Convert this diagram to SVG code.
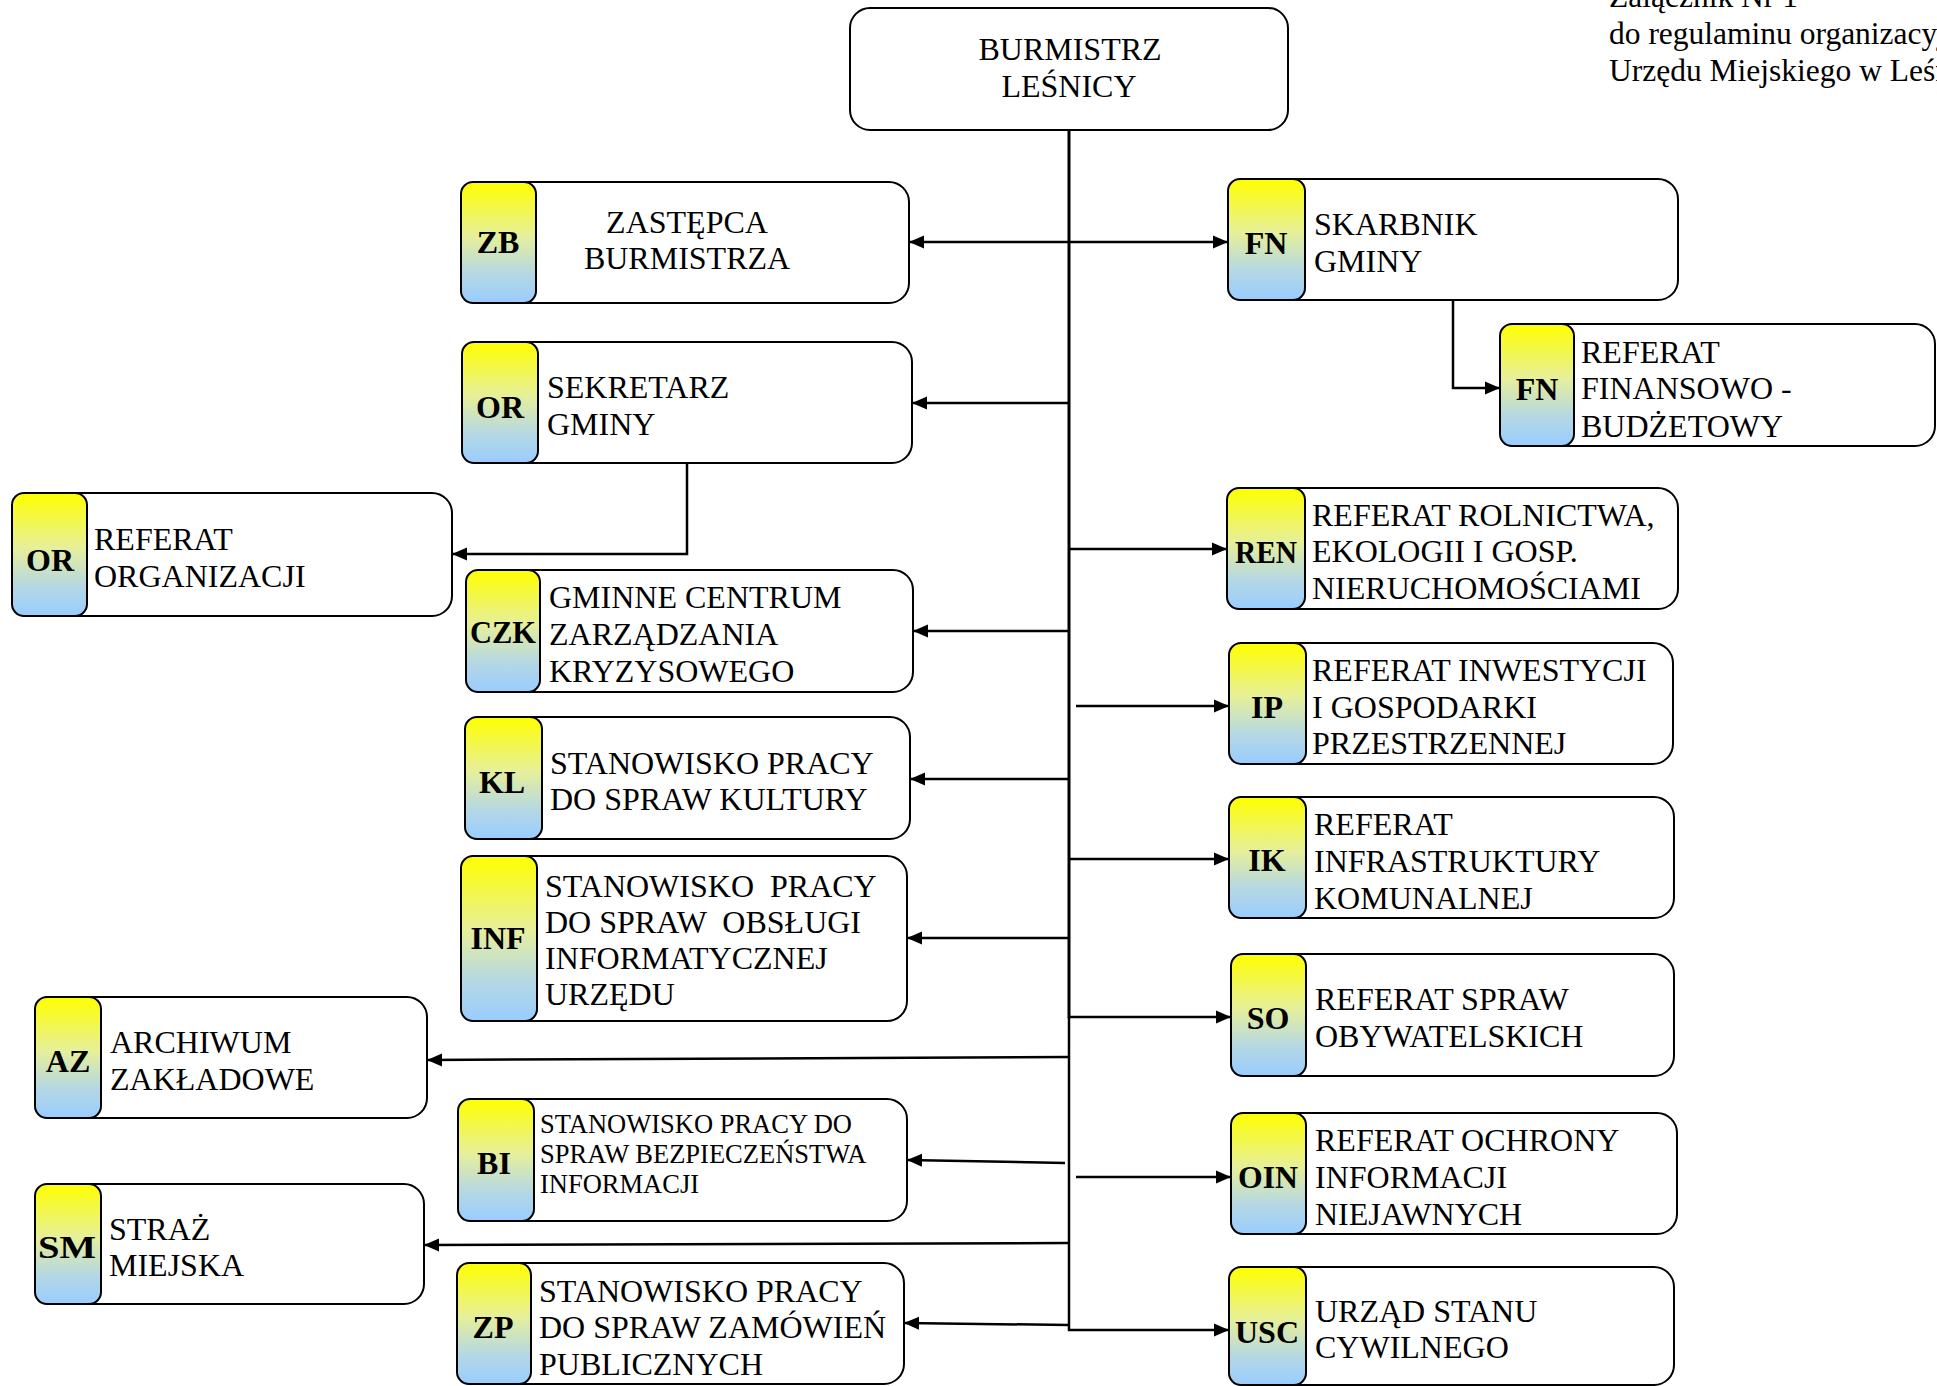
<svg xmlns="http://www.w3.org/2000/svg" width="1937" height="1386" viewBox="0 0 1937 1386">
<defs>
<linearGradient id="badgeGrad" x1="0" y1="0" x2="0" y2="1">
<stop offset="0" stop-color="#FFFF00"/>
<stop offset="0.45" stop-color="#E6EF9C"/>
<stop offset="0.75" stop-color="#B6D8E2"/>
<stop offset="1" stop-color="#99CCFF"/>
</linearGradient>
<marker id="arr" markerUnits="userSpaceOnUse" markerWidth="15" markerHeight="14" viewBox="0 0 15 14" refX="15" refY="7" orient="auto-start-reverse"><path d="M0,0.5 L15,7 L0,13.5 Z" fill="#000"/></marker>
</defs>
<style>
.box{fill:#fff;stroke:#000;stroke-width:2}
.badge{fill:url(#badgeGrad);stroke:#000;stroke-width:2}
text{font-family:"Liberation Serif","Times New Roman",serif;fill:#000}
.t{font-size:32px}
.ts{font-size:26.5px}
.lbl{font-size:32px;font-weight:bold;text-anchor:middle}
.mid{text-anchor:middle}
.hdr{font-size:31.5px}
.c{fill:none;stroke:#000;stroke-width:2.5}
.ca{fill:none;stroke:#000;stroke-width:2.5;marker-end:url(#arr)}
</style>
<rect width="1937" height="1386" fill="#fff"/>

<g id="header">
<text class="hdr"><tspan x="1609" y="7">Załącznik Nr 1</tspan><tspan x="1609" y="44">do regulaminu organizacyjnego</tspan><tspan x="1609" y="81">Urzędu Miejskiego w Leśnicy</tspan></text>
</g>

<g id="n-burmistrz">
<rect class="box" x="850" y="8" width="438" height="122" rx="20"/>
<text class="t mid"><tspan x="1070" y="60">BURMISTRZ</tspan><tspan x="1069" y="97">LEŚNICY</tspan></text>
</g>

<g id="n-zb">
<rect class="box" x="461" y="182" width="448" height="121" rx="20"/>
<rect class="badge" x="461" y="182" width="75" height="121" rx="12"/>
<text class="lbl" x="498" y="253">ZB</text>
<text class="t mid"><tspan x="687" y="233">ZASTĘPCA</tspan><tspan x="687" y="269">BURMISTRZA</tspan></text>
</g>

<g id="n-sekretarz">
<rect class="box" x="462" y="342" width="450" height="121" rx="20"/>
<rect class="badge" x="462" y="342" width="76" height="121" rx="12"/>
<text class="lbl" x="500" y="418">OR</text>
<text class="t"><tspan x="547" y="398">SEKRETARZ</tspan><tspan x="547" y="435">GMINY</tspan></text>
</g>

<g id="n-or-referat">
<rect class="box" x="12" y="493" width="440" height="123" rx="20"/>
<rect class="badge" x="12" y="493" width="75" height="123" rx="12"/>
<text class="lbl" x="50" y="571">OR</text>
<text class="t"><tspan x="94" y="550">REFERAT</tspan><tspan x="94" y="587">ORGANIZACJI</tspan></text>
</g>

<g id="n-czk">
<rect class="box" x="466" y="570" width="447" height="122" rx="20"/>
<rect class="badge" x="466" y="570" width="74" height="122" rx="12"/>
<text class="lbl" x="503" y="643" textLength="66" lengthAdjust="spacingAndGlyphs">CZK</text>
<text class="t"><tspan x="549" y="608">GMINNE CENTRUM</tspan><tspan x="549" y="645">ZARZĄDZANIA</tspan><tspan x="549" y="682">KRYZYSOWEGO</tspan></text>
</g>

<g id="n-kl">
<rect class="box" x="465" y="717" width="445" height="122" rx="20"/>
<rect class="badge" x="465" y="717" width="77" height="122" rx="12"/>
<text class="lbl" x="502" y="793">KL</text>
<text class="t"><tspan x="550" y="774">STANOWISKO PRACY</tspan><tspan x="550" y="810">DO SPRAW KULTURY</tspan></text>
</g>

<g id="n-inf">
<rect class="box" x="461" y="856" width="446" height="165" rx="20"/>
<rect class="badge" x="461" y="856" width="76" height="165" rx="12"/>
<text class="lbl" x="498" y="949">INF</text>
<text class="t" xml:space="preserve"><tspan x="545" y="897">STANOWISKO  PRACY</tspan><tspan x="545" y="933">DO SPRAW  OBSŁUGI</tspan><tspan x="545" y="969">INFORMATYCZNEJ</tspan><tspan x="545" y="1005">URZĘDU</tspan></text>
</g>

<g id="n-az">
<rect class="box" x="35" y="997" width="392" height="121" rx="20"/>
<rect class="badge" x="35" y="997" width="66" height="121" rx="12"/>
<text class="lbl" x="68" y="1072">AZ</text>
<text class="t"><tspan x="110" y="1053">ARCHIWUM</tspan><tspan x="110" y="1090">ZAKŁADOWE</tspan></text>
</g>

<g id="n-bi">
<rect class="box" x="458" y="1099" width="449" height="122" rx="20"/>
<rect class="badge" x="458" y="1099" width="76" height="122" rx="12"/>
<text class="lbl" x="494" y="1174">BI</text>
<text class="ts"><tspan x="540" y="1133">STANOWISKO PRACY DO</tspan><tspan x="540" y="1163">SPRAW BEZPIECZEŃSTWA</tspan><tspan x="540" y="1193">INFORMACJI</tspan></text>
</g>

<g id="n-sm">
<rect class="box" x="35" y="1184" width="389" height="120" rx="20"/>
<rect class="badge" x="35" y="1184" width="66" height="120" rx="12"/>
<text class="lbl" x="67" y="1258" textLength="58" lengthAdjust="spacingAndGlyphs">SM</text>
<text class="t"><tspan x="109" y="1240">STRAŻ</tspan><tspan x="109" y="1276">MIEJSKA</tspan></text>
</g>

<g id="n-zp">
<rect class="box" x="457" y="1263" width="447" height="121" rx="20"/>
<rect class="badge" x="457" y="1263" width="74" height="121" rx="12"/>
<text class="lbl" x="493" y="1338">ZP</text>
<text class="t"><tspan x="539" y="1302">STANOWISKO PRACY</tspan><tspan x="539" y="1338">DO SPRAW ZAMÓWIEŃ</tspan><tspan x="539" y="1375">PUBLICZNYCH</tspan></text>
</g>

<g id="n-fn-skarbnik">
<rect class="box" x="1228" y="179" width="450" height="121" rx="20"/>
<rect class="badge" x="1228" y="179" width="77" height="121" rx="12"/>
<text class="lbl" x="1266" y="254">FN</text>
<text class="t"><tspan x="1314" y="235">SKARBNIK</tspan><tspan x="1314" y="272">GMINY</tspan></text>
</g>

<g id="n-fn-referat">
<rect class="box" x="1500" y="324" width="435" height="122" rx="20"/>
<rect class="badge" x="1500" y="324" width="74" height="122" rx="12"/>
<text class="lbl" x="1537" y="400">FN</text>
<text class="t"><tspan x="1581" y="363">REFERAT</tspan><tspan x="1581" y="399">FINANSOWO -</tspan><tspan x="1581" y="437">BUDŻETOWY</tspan></text>
</g>

<g id="n-ren">
<rect class="box" x="1227" y="488" width="451" height="121" rx="20"/>
<rect class="badge" x="1227" y="488" width="78" height="121" rx="12"/>
<text class="lbl" x="1266" y="563" textLength="62" lengthAdjust="spacingAndGlyphs">REN</text>
<text class="t"><tspan x="1312" y="526">REFERAT ROLNICTWA,</tspan><tspan x="1312" y="562">EKOLOGII I GOSP.</tspan><tspan x="1312" y="599">NIERUCHOMOŚCIAMI</tspan></text>
</g>

<g id="n-ip">
<rect class="box" x="1229" y="643" width="444" height="121" rx="20"/>
<rect class="badge" x="1229" y="643" width="77" height="121" rx="12"/>
<text class="lbl" x="1267" y="718">IP</text>
<text class="t"><tspan x="1312" y="681">REFERAT INWESTYCJI</tspan><tspan x="1312" y="718">I GOSPODARKI</tspan><tspan x="1312" y="754">PRZESTRZENNEJ</tspan></text>
</g>

<g id="n-ik">
<rect class="box" x="1229" y="797" width="445" height="121" rx="20"/>
<rect class="badge" x="1229" y="797" width="77" height="121" rx="12"/>
<text class="lbl" x="1267" y="871">IK</text>
<text class="t"><tspan x="1314" y="835">REFERAT</tspan><tspan x="1314" y="872">INFRASTRUKTURY</tspan><tspan x="1314" y="909">KOMUNALNEJ</tspan></text>
</g>

<g id="n-so">
<rect class="box" x="1231" y="954" width="443" height="122" rx="20"/>
<rect class="badge" x="1231" y="954" width="75" height="122" rx="12"/>
<text class="lbl" x="1268" y="1029">SO</text>
<text class="t"><tspan x="1315" y="1010">REFERAT SPRAW</tspan><tspan x="1315" y="1047">OBYWATELSKICH</tspan></text>
</g>

<g id="n-oin">
<rect class="box" x="1231" y="1113" width="446" height="121" rx="20"/>
<rect class="badge" x="1231" y="1113" width="75" height="121" rx="12"/>
<text class="lbl" x="1268" y="1188" textLength="60" lengthAdjust="spacingAndGlyphs">OIN</text>
<text class="t"><tspan x="1315" y="1151">REFERAT OCHRONY</tspan><tspan x="1315" y="1188">INFORMACJI</tspan><tspan x="1315" y="1225">NIEJAWNYCH</tspan></text>
</g>

<g id="n-usc">
<rect class="box" x="1229" y="1267" width="445" height="118" rx="20"/>
<rect class="badge" x="1229" y="1267" width="77" height="118" rx="12"/>
<text class="lbl" x="1267" y="1343" textLength="64" lengthAdjust="spacingAndGlyphs">USC</text>
<text class="t"><tspan x="1315" y="1322">URZĄD STANU</tspan><tspan x="1315" y="1358">CYWILNEGO</tspan></text>
</g>

<g id="connectors">
<path d="M1069,130 V1018" fill="none" stroke="#000" stroke-width="3"/>
<path class="ca" d="M1069,1017 V1330 H1229" stroke-width="2"/>
<path d="M909,242 H1228" fill="none" stroke="#000" stroke-width="2.5" marker-start="url(#arr)" marker-end="url(#arr)"/>
<path class="ca" d="M1069,403 H912"/>
<path class="ca" d="M687,463 V554 H452"/>
<path class="ca" d="M1453,300 V388 H1500"/>
<path class="ca" d="M1069,549 H1227"/>
<path class="ca" d="M1069,631 H913"/>
<path class="ca" d="M1076,706 H1229"/>
<path class="ca" d="M1069,779 H910"/>
<path class="ca" d="M1069,859 H1229"/>
<path class="ca" d="M1069,938 H907"/>
<path class="ca" d="M1069,1017 H1231"/>
<path class="ca" d="M1069,1057 L427,1060"/>
<path class="ca" d="M1065,1163 L907,1160"/>
<path class="ca" d="M1076,1177 H1231"/>
<path class="ca" d="M1069,1243 L424,1245"/>
<path class="ca" d="M1069,1325 L904,1323"/>
</g>
</svg>
